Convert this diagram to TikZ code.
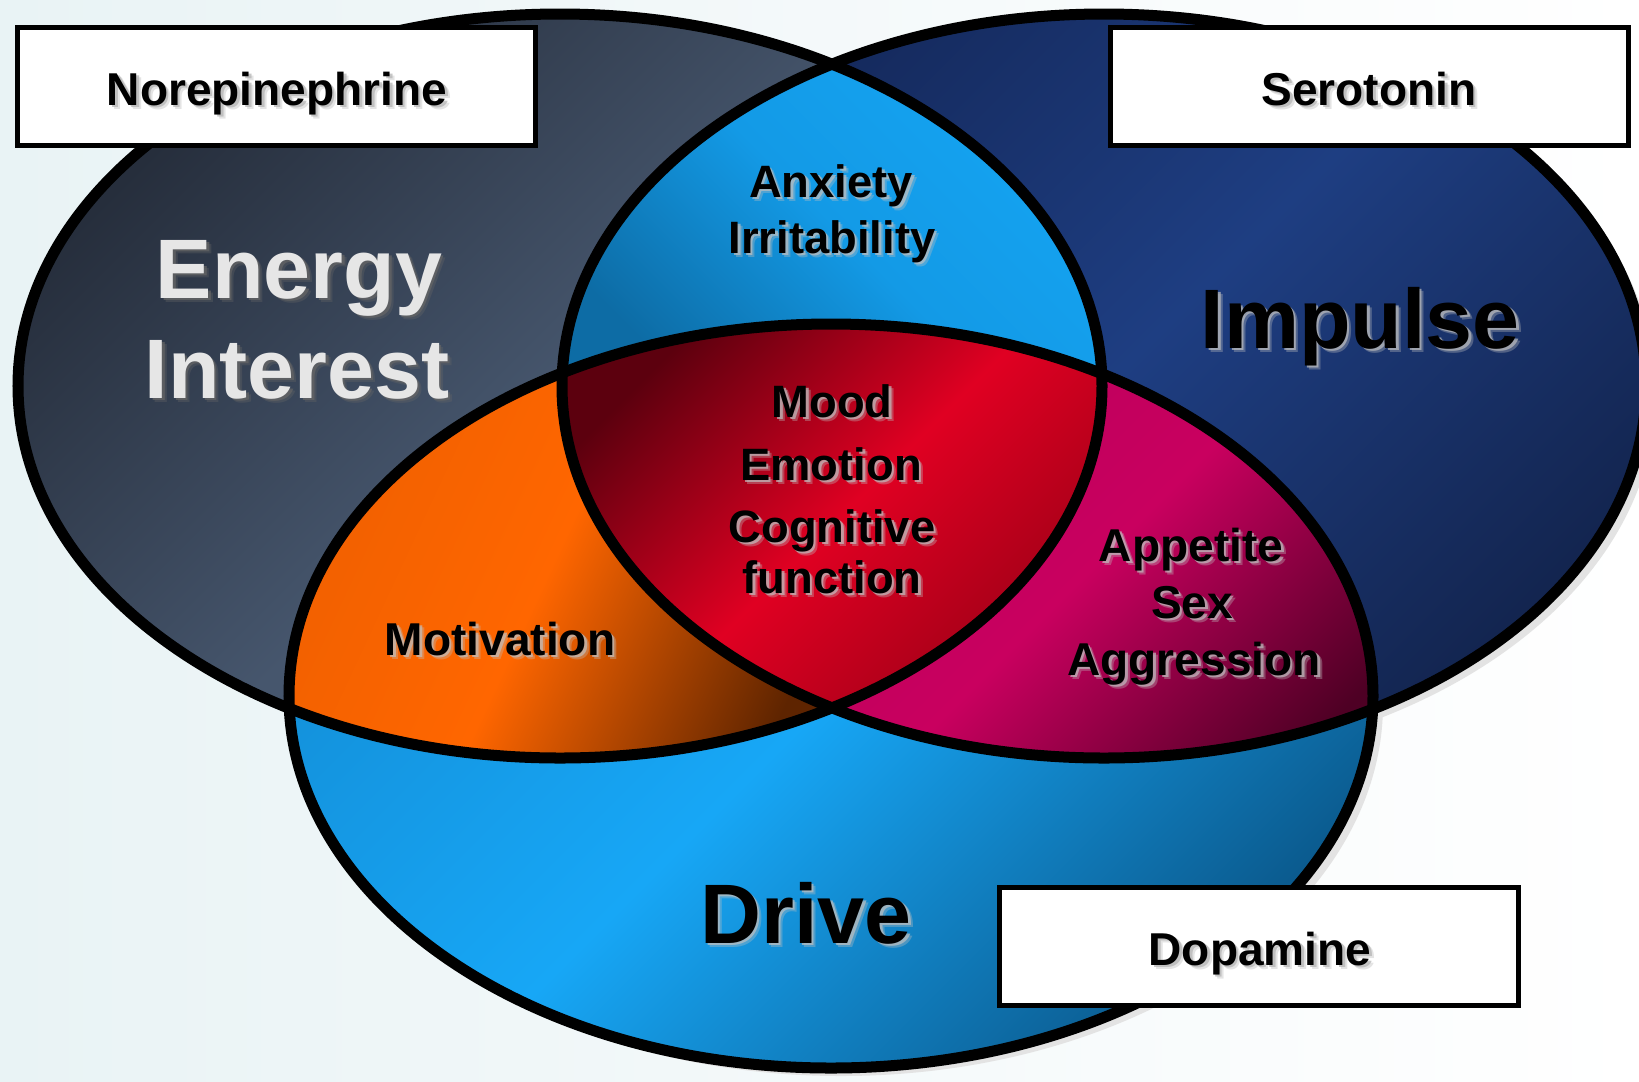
\documentclass[tikz,border=0pt]{standalone}
\usepackage{fontspec}
\setmainfont{Liberation Sans}

\definecolor{bgpale}{HTML}{E9F3F5}
\definecolor{ellshadow}{HTML}{E3E3E3}
\definecolor{slatedark}{HTML}{262E3C}
\definecolor{slatelight}{HTML}{46566D}
\definecolor{navydark}{HTML}{14285A}
\definecolor{navymid}{HTML}{1E3E82}
\definecolor{navylow}{HTML}{132550}
\definecolor{skyedge}{HTML}{138DD6}
\definecolor{skylight}{HTML}{17A7F6}
\definecolor{skydark}{HTML}{0B5B8F}
\definecolor{lenslight}{HTML}{15A4F2}
\definecolor{lensmid}{HTML}{139AE6}
\definecolor{lensdark}{HTML}{0D6CA5}
\definecolor{orangeleft}{HTML}{EE5F00}
\definecolor{orangelight}{HTML}{FF6600}
\definecolor{orangedark}{HTML}{5E2400}
\definecolor{redlight}{HTML}{E00022}
\definecolor{reddark}{HTML}{5C000E}
\definecolor{redlow}{HTML}{9A0016}
\definecolor{magentatop}{HTML}{B8005C}
\definecolor{magentalight}{HTML}{C9005F}
\definecolor{magentadark}{HTML}{4E0024}
\definecolor{energygray}{HTML}{E6E6E6}

% a word with its soft drop shadow behind it
\newcommand{\vennword}[5]{%
  \node[#3, text=#4, opacity=0.35] (#1-glow) at ([shift={(4.5,4.5)}]#2) {#5};
  \node[#3, text=#4, opacity=0.7] (#1-shadow) at ([shift={(2.5,2.5)}]#2) {#5};
  \node[#3] (#1) at (#2) {#5};}

% the three ellipses
\def\neellipse{(560,386) ellipse [x radius=542, y radius=372]}
\def\htellipse{(1104,386) ellipse [x radius=542, y radius=372]}
\def\daellipse{(831,696) ellipse [x radius=542, y radius=372]}

\begin{document}
\begin{tikzpicture}[x=0.01cm, y=-0.01cm,
    outline/.style={draw=black, line width=0.11cm},
    labelbox/.style={draw=black, fill=white, line width=0.05cm, minimum width=5.18cm, minimum height=1.18cm, inner sep=0pt},
    boxfont/.style={font=\fontsize{13.1}{15}\selectfont\bfseries, inner sep=0pt, anchor=base},
    smallfont/.style={font=\fontsize{12.9}{15}\selectfont\bfseries, inner sep=0pt, anchor=base},
    bigfont/.style={font=\fontsize{24}{28}\selectfont\bfseries, inner sep=0pt, anchor=base}
]
    % page and pale backdrop
        \useasboundingbox (0,0) rectangle (1639,1081);
        \fill[left color=bgpale, right color=white] (0,0) rectangle (1639,1081);

    % grey shadows under the ellipses
        \fill[ellshadow, shift={(10,8)}] \neellipse;
        \fill[ellshadow, shift={(10,8)}] \htellipse;
        \fill[ellshadow, shift={(10,8)}] \daellipse;

    % the ellipses themselves
        \shade[top color=slatedark, bottom color=slatelight, middle color=slatelight, shading angle=45] \neellipse;
        \shade[top color=navydark, bottom color=navylow, middle color=navymid, shading angle=45] \htellipse;
        \shade[top color=skyedge, bottom color=skydark, middle color=skylight, shading angle=45] \daellipse;

    % overlaps
        \begin{scope}
            \clip \neellipse;
            \clip \htellipse;
            \shade[top color=lenslight, bottom color=lensdark, middle color=lensmid, shading angle=-45] (555,60) rectangle (1110,385);
        \end{scope}
        \begin{scope}
            \clip \neellipse;
            \clip \daellipse;
            \shade[top color=orangeleft, bottom color=orangedark, middle color=orangelight, shading angle=65] (240,380) rectangle (840,800);
        \end{scope}
        \begin{scope}
            \clip \htellipse;
            \clip \daellipse;
            \shade[top color=magentatop, bottom color=magentadark, middle color=magentalight, shading angle=45] (800,300) rectangle (1420,800);
        \end{scope}
        \begin{scope}
            \clip \neellipse;
            \clip \htellipse;
            \clip \daellipse;
            \shade[top color=reddark, bottom color=redlow, middle color=redlight, shading angle=45] (560,320) rectangle (1105,730);
        \end{scope}

    % black rims
        \draw[outline] \neellipse;
        \draw[outline] \htellipse;
        \draw[outline] \daellipse;

    % transmitter boxes
        \node[labelbox] (nebox) at (276.5,86.5) {};
        \node[labelbox] (htbox) at (1369.5,86.5) {};
        \node[labelbox] (dabox) at (1259,946.5) {};
        \vennword{netext}{277,105}{boxfont}{black!30}{Norepinephrine}
        \vennword{httext}{1369,105}{boxfont}{black!30}{Serotonin}
        \vennword{datext}{1260,965}{boxfont}{black!30}{Dopamine}

    % big words
        \vennword{energy}{299,298}{bigfont, text=energygray}{black!60}{Energy}
        \vennword{interest}{297,398}{bigfont, text=energygray}{black!60}{Interest}
        \vennword{impulse}{1360,348}{bigfont}{black!25}{Impulse}
        \vennword{drive}{806,943}{bigfont}{black!25}{Drive}

    % overlap words
        \vennword{anxiety}{831,197}{smallfont}{black!25}{Anxiety}
        \vennword{irritability}{832,253}{smallfont}{black!25}{Irritability}
        \vennword{mood}{832,417}{smallfont}{black!25}{Mood}
        \vennword{emotion}{831,480}{smallfont}{black!25}{Emotion}
        \vennword{cognitive}{832,542}{smallfont}{black!25}{Cognitive}
        \vennword{function}{832,593}{smallfont}{black!25}{function}
        \vennword{motivation}{500,655}{boxfont}{black!25}{Motivation}
        \vennword{appetite}{1191,561}{boxfont}{black!25}{Appetite}
        \vennword{sex}{1192,618}{boxfont}{black!25}{Sex}
        \vennword{aggression}{1194,675}{boxfont}{black!25}{Aggression}
\end{tikzpicture}
\end{document}
